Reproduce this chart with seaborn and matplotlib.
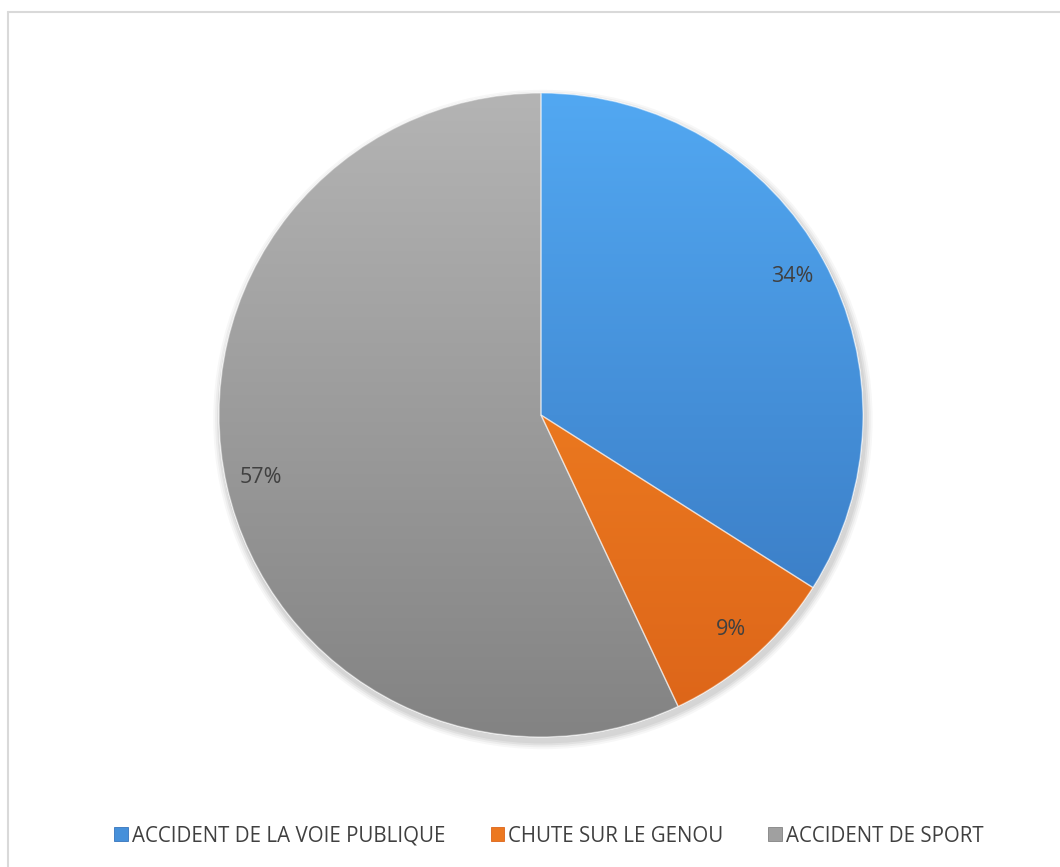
import numpy as np
import matplotlib
matplotlib.use("Agg")
import matplotlib.pyplot as plt
import seaborn as sns
from matplotlib.colors import LinearSegmentedColormap
from matplotlib.patches import Patch, Circle, Wedge
from matplotlib.lines import Line2D

sns.set_theme(style="white")
plt.rcParams['font.family'] = ['Open Sans', 'DejaVu Sans']

categories = ["ACCIDENT DE LA VOIE PUBLIQUE", "CHUTE SUR LE GENOU", "ACCIDENT DE SPORT"]
shares = [34, 9, 57]
# light (top) / dark (bottom) tones of each slice
light_tones = ["#52A8F2", "#F98C25", "#B4B4B4"]
dark_tones = ["#3674BC", "#DC6419", "#838383"]
mid_tones = ["#4690DA", "#EC7820", "#A0A0A0"]

fig = plt.figure(figsize=(10.6, 8.67), dpi=100)
ax = fig.add_axes([219 / 1060, 130 / 867, 644 / 1060, 644 / 867])

# soft drop shadow under the pie
for k, a in enumerate([0.05, 0.05, 0.04, 0.03]):
    sh = Circle((0.006, -0.014), 1.0 + 0.006 * (k + 1), color="black",
                alpha=a, lw=0, zorder=0)
    sh.set_clip_on(False)
    ax.add_patch(sh)

wedges, texts, autotexts = ax.pie(
    shares, startangle=90, counterclock=False, colors=mid_tones,
    autopct="%1.0f%%", pctdistance=0.89, radius=1.0,
    wedgeprops=dict(edgecolor="white", linewidth=0.8),
    textprops=dict(color="#404040", fontsize=15.5),
)

# vertical gradient inside every slice
grad = np.linspace(1, 0, 256).reshape(-1, 1)
for w, lt, dk in zip(wedges, light_tones, dark_tones):
    cmap = LinearSegmentedColormap.from_list("g", [dk, lt])
    im = ax.imshow(grad, cmap=cmap, extent=[-1, 1, -1, 1], origin="upper",
                   aspect="auto", zorder=w.get_zorder() + 0.1, vmin=0, vmax=1)
    im.set_clip_path(w)
    # subtle bevel outline on top of the gradient
    outline = Wedge(w.center, w.r, w.theta1, w.theta2, facecolor="none",
                    edgecolor="white", linewidth=1.0, alpha=0.45,
                    zorder=w.get_zorder() + 0.2)
    ax.add_patch(outline)

for t in autotexts:
    t.set_zorder(10)

ax.set_xlim(-1, 1)
ax.set_ylim(-1, 1)
ax.set_aspect("equal")
ax.axis("off")

handles = [Patch(facecolor=c, edgecolor=d, linewidth=0.6) for c, d in zip(mid_tones, dark_tones)]
fig.legend(handles, categories, loc="center", bbox_to_anchor=(0.5 + 19 / 1060, 1 - 836 / 867),
           ncol=3, frameon=False, fontsize=14.8, handlelength=0.65, handleheight=0.65,
           handletextpad=0.2, columnspacing=2.2, labelcolor="#404040")

# chart area frame
frame_color = "#D9D9D9"
fig.add_artist(Line2D([8 / 1060, 8 / 1060], [0, 1 - 12 / 867], transform=fig.transFigure,
                      color=frame_color, lw=1.5))
fig.add_artist(Line2D([8 / 1060, 1], [1 - 12 / 867, 1 - 12 / 867], transform=fig.transFigure,
                      color=frame_color, lw=1.5))

fig.savefig("out.png", dpi=100, facecolor="white")
